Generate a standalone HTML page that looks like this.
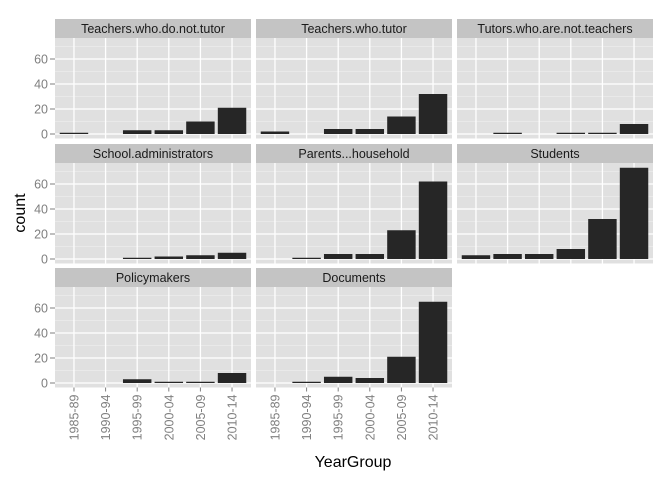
<!DOCTYPE html>
<html><head><meta charset="utf-8"><style>
body{margin:0;background:#fff}
text{font-family:"Liberation Sans",sans-serif}
</style></head><body>
<svg id="chart" width="672" height="480" xmlns="http://www.w3.org/2000/svg"></svg>
<script>
const categories = ["1985-89","1990-94","1995-99","2000-04","2005-09","2010-14"];
const facetNames = ["Teachers.who.do.not.tutor","Teachers.who.tutor","Tutors.who.are.not.teachers","School.administrators","Parents...household","Students","Policymakers","Documents"];
const teachersNoTutor = [1,0,3,3,10,21];
const teachersTutor = [2,0,4,4,14,32];
const tutorsNotTeachers = [0,1,0,1,1,8];
const schoolAdmins = [0,0,1,2,3,5];
const parents = [0,1,4,4,23,62];
const students = [3,4,4,8,32,73];
const policymakers = [0,0,3,1,1,8];
const documents = [0,1,5,4,21,65];
const seriesList = [teachersNoTutor,teachersTutor,tutorsNotTeachers,schoolAdmins,parents,students,policymakers,documents];
const yTicks = [0,20,40,60];
const yMinor = [10,30,50,70];

const NS="http://www.w3.org/2000/svg";
const svg=document.getElementById('chart');
function mk(t,a,p){const e=document.createElementNS(NS,t);for(const k in a)e.setAttribute(k,a[k]);(p||svg).appendChild(e);return e;}
const colX=[55,256,457], pw=196;
const rowStrip=[19,144,268], stripH=19, ph=100.5;
const yMin=-3.6, yMax=76.8;
seriesList.forEach((vals,i)=>{
  const r=Math.floor(i/3), c=i%3;
  const x0=colX[c], top=rowStrip[r]+stripH;
  const yS=v=>top+ph-(v-yMin)/(yMax-yMin)*ph;
  const step=pw/(categories.length+0.2);
  const xS=k=>x0+step*(k+0.6);
  const g=mk('g',{});
  
  
  const strip=mk('rect',{x:x0,y:rowStrip[r],width:pw,height:stripH,fill:'#c4c4c4'},g);
  
  
  const st=mk('text',{x:x0+pw/2,y:rowStrip[r]+14,'text-anchor':'middle','font-size':'12.5',fill:'#1a1a1a'},g);
  st.textContent=facetNames[i];
  
  
  const bg=mk('rect',{x:x0,y:top,width:pw,height:ph,fill:'#e0e0e0'},g);
  
  
  yMinor.forEach(v=>mk('line',{x1:x0,x2:x0+pw,y1:yS(v),y2:yS(v),stroke:'#ececec','stroke-width':0.8},g));
  yTicks.forEach(v=>mk('line',{x1:x0,x2:x0+pw,y1:yS(v),y2:yS(v),stroke:'#fff','stroke-width':1.3},g));
  categories.forEach((cat,k)=>mk('line',{x1:xS(k),x2:xS(k),y1:top,y2:top+ph,stroke:'#fff','stroke-width':1.3},g));
  vals.forEach((v,k)=>{
    if(v<=0)return;
    const b=mk('rect',{x:xS(k)-step*0.45,y:yS(v),width:step*0.9,height:yS(0)-yS(v),fill:'#262626'},g);
    
    
  });
  if(c===0){
    yTicks.forEach(v=>{
      mk('line',{x1:x0-5,x2:x0,y1:yS(v),y2:yS(v),stroke:'#7f7f7f','stroke-width':1},g);
      const t=mk('text',{x:x0-7,y:yS(v)+4.5,'text-anchor':'end','font-size':'12.5',fill:'#7f7f7f'},g);
      t.textContent=v;
      
      
    });
  }
  if(r===2){
    categories.forEach((cat,k)=>{
      mk('line',{x1:xS(k),x2:xS(k),y1:top+ph,y2:top+ph+4,stroke:'#7f7f7f','stroke-width':1},g);
      const tx=xS(k)+4.5, ty=top+ph+7;
      const t=mk('text',{x:tx,y:ty,'text-anchor':'end','font-size':'12.5',fill:'#7f7f7f',transform:`rotate(-90 ${tx} ${ty})`},g);
      t.textContent=cat;
      
      
    });
  }
});
const yt=mk('text',{x:25,y:213,'text-anchor':'middle','font-size':'16',fill:'#000',transform:'rotate(-90 25 213)'});
yt.textContent='count';


const xt=mk('text',{x:353,y:467,'text-anchor':'middle','font-size':'16',fill:'#000'});
xt.textContent='YearGroup';


</script>
</body></html>
